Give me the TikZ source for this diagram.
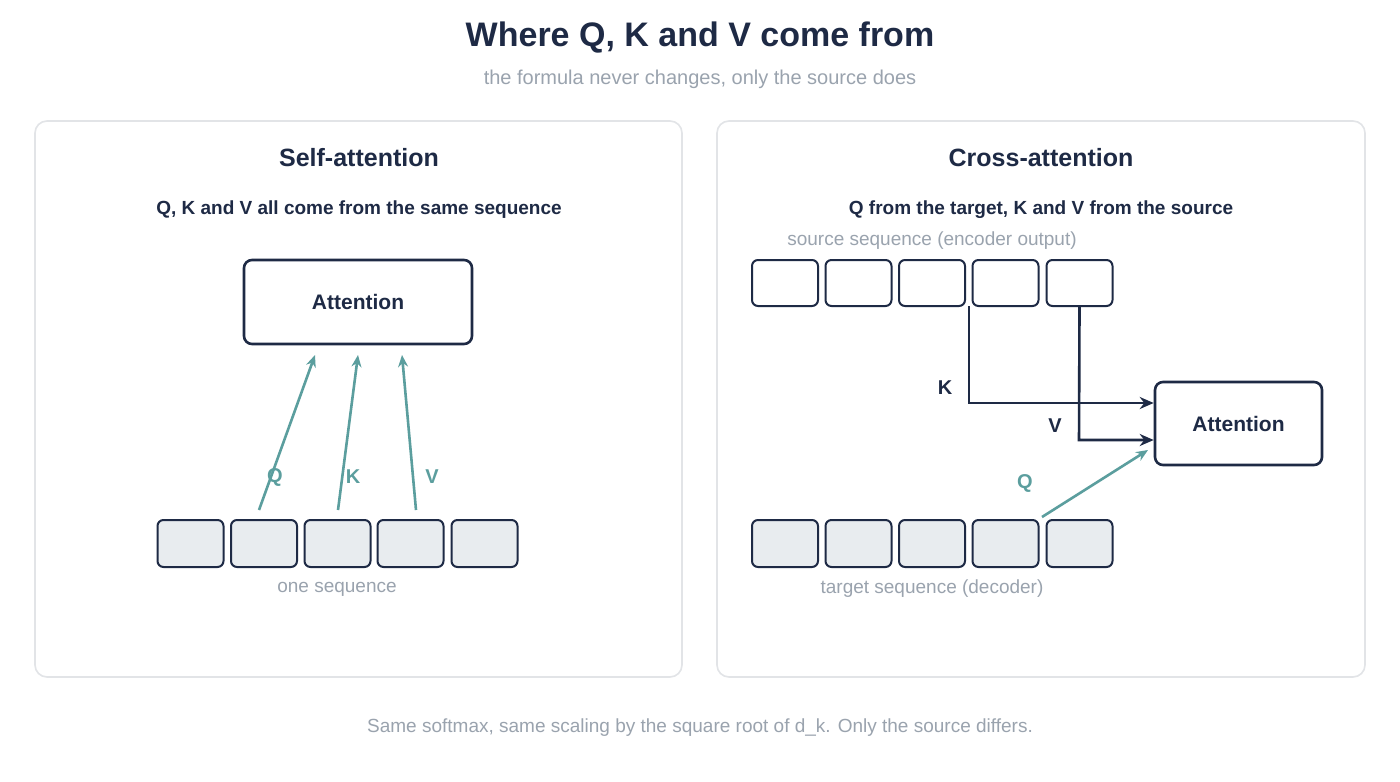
\documentclass[tikz,border=0pt]{standalone}
\usepackage{fontspec}
\setmainfont{Liberation Sans}
\usetikzlibrary{arrows.meta}
\definecolor{navy}{HTML}{1E2A45}
\definecolor{teal}{HTML}{5B9E9E}
\definecolor{mgray}{HTML}{9AA3AE}
\definecolor{cellf}{HTML}{E8ECEF}
\definecolor{panelb}{HTML}{E2E4E7}
\begin{document}
\begin{tikzpicture}[x=0.5pt,y=-0.5pt,
  panel/.style={draw=panelb,line width=0.8pt,rounded corners=6pt},
  cell/.style={draw=navy,line width=1pt,rounded corners=3pt,fill=cellf},
  scell/.style={draw=navy,line width=1pt,rounded corners=3pt,fill=white},
  att/.style={draw=navy,line width=1.3pt,rounded corners=4pt,fill=white,font=\bfseries\fontsize{10.5}{12}\selectfont,text=navy},
  tarr/.style={draw=teal,line width=1.3pt,-{Stealth[length=6pt,width=5pt]}},
  narr/.style={draw=navy,line width=1.3pt,-{Stealth[length=7pt,width=6pt]}},
  gtxt/.style={text=mgray,font=\fontsize{9.5}{11}\selectfont},
  ttl/.style={text=navy,font=\bfseries\fontsize{12.5}{14}\selectfont},
  sub/.style={text=navy,font=\bfseries\fontsize{9.5}{11}\selectfont},
  tlab/.style={text=teal,font=\bfseries\fontsize{10}{12}\selectfont},
  nlab/.style={text=navy,font=\bfseries\fontsize{10}{12}\selectfont}]
\useasboundingbox[fill=white] (0,0) rectangle (1400,781);
\node[text=navy,font=\bfseries\fontsize{17}{20}\selectfont] (title) at (700,38) {Where Q, K and V come from};
\node[gtxt,font=\fontsize{10}{12}\selectfont] (stitle) at (700,79) {the formula never changes, only the source does};
\draw[panel] (35,121) rectangle (682,677);
\draw[panel] (717,121) rectangle (1365,677);
% left
\node[ttl] (lt) at (359,158) {Self-attention};
\node[sub] (ls) at (359,210) {Q, K and V all come from the same sequence};
\node[att,minimum width=114pt,minimum height=42pt] (la) at (358,302) {Attention};
\foreach \i/\x in {1/190.5,2/264,3/337.5,4/410.5,5/484.5}
  \node[cell,minimum width=33pt,minimum height=23.5pt] (l\i) at (\x,543.5) {};
\coordinate (lq0) at (259,510); \coordinate (lq1) at (315,355);
\coordinate (lk0) at (338,510); \coordinate (lk1) at (358,355);
\coordinate (lv0) at (416,510); \coordinate (lv1) at (402,355);
\draw[tarr] (lq0) -- (lq1);
\draw[tarr] (lk0) -- (lk1);
\draw[tarr] (lv0) -- (lv1);
\node[tlab] (lql) at (275,477) {Q};
\node[tlab] (lkl) at (353,477) {K};
\node[tlab] (lvl) at (432,477) {V};
\node[gtxt] (lone) at (337,589) {one sequence};
% right
\node[ttl] (rt) at (1041,158) {Cross-attention};
\node[sub] (rs) at (1041,210) {Q from the target, K and V from the source};
\node[gtxt] (rsrc) at (932,241) {source sequence (encoder output)};
\foreach \i/\x in {1/785,2/858.5,3/932,4/1005.5,5/1079.5}{
  \node[scell,minimum width=33pt,minimum height=23pt] (s\i) at (\x,283) {};
  \node[cell,minimum width=33pt,minimum height=23.5pt] (t\i) at (\x,543.5) {};}
\node[att,minimum width=83.5pt,minimum height=41.5pt] (ra) at (1238.5,423.5) {Attention};
\coordinate (kc) at (969,403);
\coordinate (vc) at (1079,440);
\draw[narr] (969,306) -- (kc) -- (ra.west |- kc);
\draw[narr] (s5.south) -- (vc) -- (ra.west |- vc);
\node[nlab] (kl) at (945,388) {K};
\node[nlab] (vl) at (1055,426) {V};
\coordinate (q0) at (1042,517);
\coordinate (q1) at (1148,450);
\draw[tarr] (q0) -- (q1);
\node[tlab] (ql) at (1025,483) {Q};
\node[gtxt] (rtg) at (932,589) {target sequence (decoder)};
\node[gtxt] (foot) at (700,728) {Same softmax, same scaling by the square root of d\_k. Only the source differs.};
\end{tikzpicture}
\end{document}
